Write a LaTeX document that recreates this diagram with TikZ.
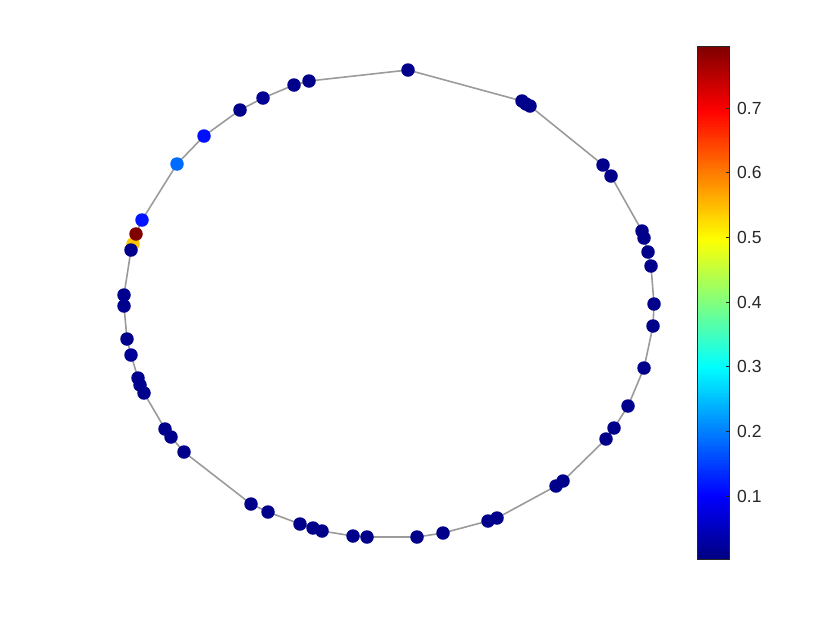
\documentclass[tikz,border=0pt]{standalone}
\usepackage{fontspec}
\setmainfont{Liberation Sans}
\pgfdeclarelayer{background}
\pgfsetlayers{background,main}
\definecolor{edgegray}{RGB}{155,155,155}
\definecolor{axgray}{RGB}{38,38,38}
\tikzset{
  dot/.style={circle,inner sep=0pt,minimum size=13.5pt,draw=none},
  edge/.style={draw=edgegray,line width=1.6pt},
  ticklab/.style={anchor=west,inner sep=0pt,text=axgray,font=\fontsize{17.5}{19}\selectfont}
}
\newcommand{\jetcol}[1]{%
  \pgfmathsetmacro\jr{max(0,min(1,1.5-abs(4*(#1)-3)))}%
  \pgfmathsetmacro\jg{max(0,min(1,1.5-abs(4*(#1)-2)))}%
  \pgfmathsetmacro\jb{max(0,min(1,1.5-abs(4*(#1)-1)))}%
  \definecolor{jc}{rgb}{\jr,\jg,\jb}}
\newcommand{\jetdot}[4]{\jetcol{#4}\node[dot,fill=jc] (#1) at (#2,#3) {};}
\begin{document}
\begin{tikzpicture}[x=1pt,y=-1pt]
\useasboundingbox (0,0) rectangle (840,630);
% nodes
\jetdot{n1}{408}{70}{0.01}
\jetdot{n2}{522}{101}{0.01}
\jetdot{n3}{526}{104}{0.01}
\jetdot{n4}{530}{106}{0.01}
\jetdot{n5}{603}{165}{0.01}
\jetdot{n6}{611}{176}{0.01}
\jetdot{n7}{642}{231}{0.01}
\jetdot{n8}{644}{238}{0.01}
\jetdot{n9}{648}{252}{0.01}
\jetdot{n10}{651}{266}{0.01}
\jetdot{n11}{654}{304}{0.01}
\jetdot{n12}{653}{326}{0.01}
\jetdot{n13}{644}{368}{0.01}
\jetdot{n14}{628}{406}{0.015}
\jetdot{n15}{614}{428}{0.01}
\jetdot{n16}{606}{439}{0.01}
\jetdot{n17}{563}{481}{0.01}
\jetdot{n18}{556}{486}{0.01}
\jetdot{n19}{497}{518}{0.01}
\jetdot{n20}{488}{521}{0.01}
\jetdot{n21}{443}{533}{0.01}
\jetdot{n22}{417}{537}{0.01}
\jetdot{n23}{367}{537}{0.01}
\jetdot{n24}{353}{536}{0.01}
\jetdot{n25}{322}{531}{0.01}
\jetdot{n26}{313}{528}{0.01}
\jetdot{n27}{300}{524}{0.01}
\jetdot{n28}{268}{512}{0.01}
\jetdot{n29}{251}{504}{0.01}
\jetdot{n30}{184}{452}{0.01}
\jetdot{n31}{171}{437}{0.01}
\jetdot{n32}{165}{429}{0.01}
\jetdot{n33}{144}{393}{0.01}
\jetdot{n34}{140}{385}{0.015}
\jetdot{n35}{138}{378}{0.015}
\jetdot{n36}{131}{355}{0.025}
\jetdot{n37}{127}{339}{0.01}
\jetdot{n38}{124}{306}{0.015}
\jetdot{n39}{124}{295}{0.015}
\jetdot{n41}{133}{244}{0.68}
\jetdot{n40}{131}{250}{0.01}
\jetdot{n42}{136}{234}{1}
\jetdot{n43}{142}{220}{0.145}
\jetdot{n44}{177}{164}{0.23}
\jetdot{n45}{204}{136}{0.14}
\jetdot{n46}{240}{110}{0.01}
\jetdot{n47}{263}{98}{0.02}
\jetdot{n48}{294}{85}{0.01}
\jetdot{n49}{309}{81}{0.01}
% edges
\begin{pgfonlayer}{background}
\foreach \a/\b in {1/2,2/3,3/4,4/5,5/6,6/7,7/8,8/9,9/10,10/11,11/12,12/13,13/14,14/15,15/16,16/17,17/18,18/19,19/20,20/21,21/22,22/23,23/24,24/25,25/26,26/27,27/28,28/29,29/30,30/31,31/32,32/33,33/34,34/35,35/36,36/37,37/38,38/39,39/40,40/41,41/42,42/43,43/44,44/45,45/46,46/47,47/48,48/49,49/1}
  \draw[edge] (n\a.center) -- (n\b.center);
\end{pgfonlayer}
% colorbar
\foreach \i in {0,...,199} {
  \pgfmathsetmacro\tval{(\i+0.5)/200}
  \jetcol{\tval}
  \pgfmathsetmacro\ya{560-2.565*\i}
  \pgfmathsetmacro\yb{560-2.565*\i-3.2}
  \fill[jc] (697,\ya) rectangle (729,\yb);
}
\fill[white] (690,46.5) rectangle (735,40);
\node[draw=axgray,line width=0.6pt,inner sep=0pt,minimum width=32pt,minimum height=513pt,anchor=south west] (cbar) at (697,560) {};
\foreach \v/\y in {1/496,2/431.3,3/366.7,4/302,5/237.3,6/172.7,7/108} {
  \draw[axgray,line width=0.6pt] (cbar.east |- 0,\y) -- ++(-4,0);
  \node[ticklab] (l\v) at (737,\y) {0.\v};
}
\end{tikzpicture}
\end{document}
